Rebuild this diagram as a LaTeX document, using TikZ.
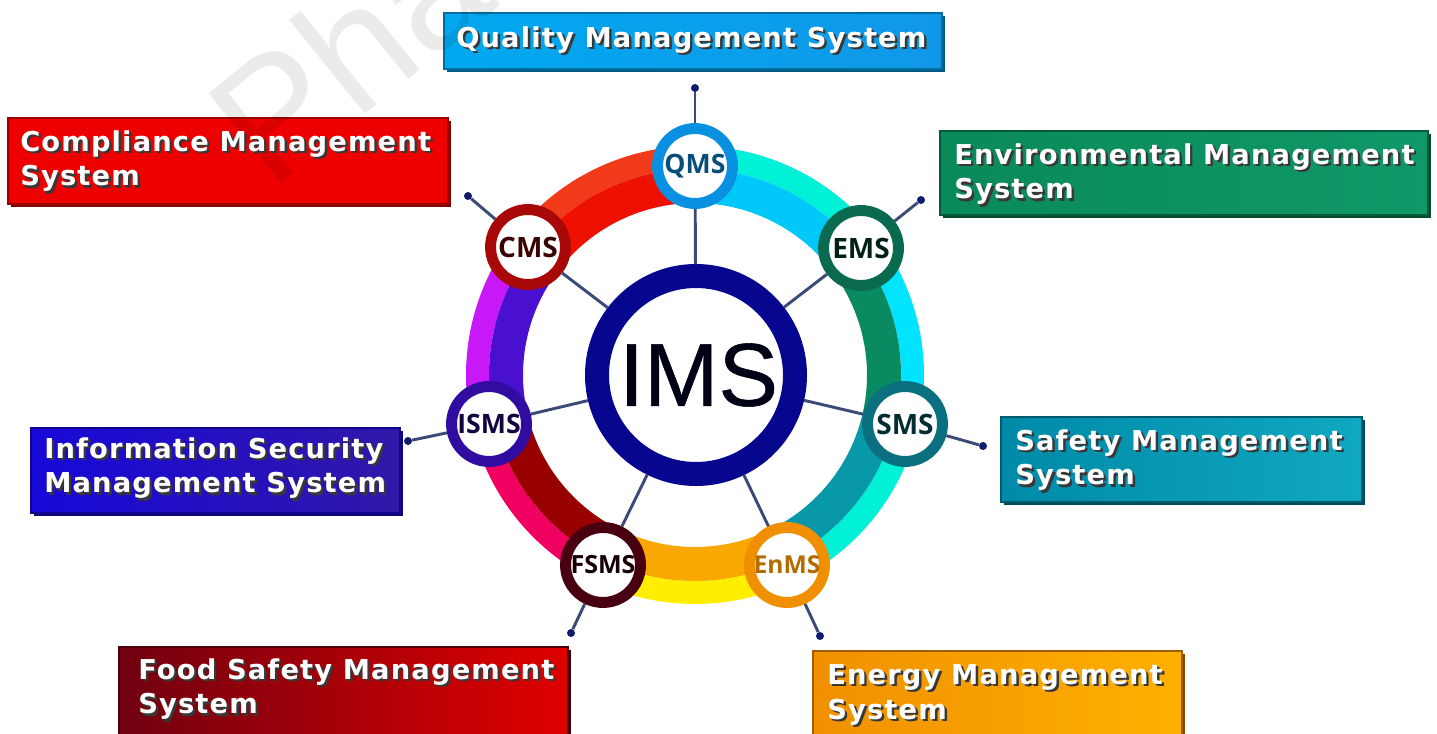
\documentclass[tikz,border=0pt]{standalone}
\usepackage{fontspec}
\setmainfont{DejaVu Sans}
\newfontfamily\boxfont[LetterSpace=4.2]{DejaVu Sans}
\newfontfamily\hubfont{Open Sans}
\newfontfamily\imsfont[FakeBold=0.6]{Liberation Sans}
\newfontfamily\wmfont{Liberation Sans}
\definecolor{spoke}{HTML}{3C4A78}
\definecolor{dotc}{HTML}{101C70}
\definecolor{imsblue}{HTML}{06068E}
\definecolor{qa}{HTML}{00F0D8}\definecolor{qb}{HTML}{00C8F8}
\definecolor{ea}{HTML}{00E4FF}\definecolor{eb}{HTML}{0A8A60}
\definecolor{sa}{HTML}{00F0D8}\definecolor{sb}{HTML}{0898A8}
\definecolor{na}{HTML}{FFEE00}\definecolor{nb}{HTML}{F8A800}
\definecolor{fa}{HTML}{F00060}\definecolor{fb}{HTML}{980000}
\definecolor{ia}{HTML}{C818F8}\definecolor{ib}{HTML}{4A10D0}
\definecolor{ca}{HTML}{F03A1A}\definecolor{cb}{HTML}{EE1000}
\definecolor{hq}{HTML}{0A90E0}\definecolor{hc}{HTML}{A80808}
\definecolor{he}{HTML}{0A6A50}\definecolor{hs}{HTML}{0A7080}
\definecolor{hn}{HTML}{F09000}\definecolor{hf}{HTML}{480010}
\definecolor{hi}{HTML}{300CA0}
\definecolor{bqa}{HTML}{00A8F0}\definecolor{bqb}{HTML}{1098E8}
\definecolor{bca}{HTML}{EE0000}\definecolor{bcb}{HTML}{EE0000}
\definecolor{bea}{HTML}{0A8A58}\definecolor{beb}{HTML}{109868}
\definecolor{bsa}{HTML}{008AA8}\definecolor{bsb}{HTML}{10A8C0}
\definecolor{bia}{HTML}{1808D8}\definecolor{bib}{HTML}{3018A8}
\definecolor{bfa}{HTML}{700010}\definecolor{bfb}{HTML}{E00000}
\definecolor{bna}{HTML}{F09000}\definecolor{bnb}{HTML}{FFB000}
\newcommand\shtext[1]{\rlap{\raisebox{-1.8pt}{\hspace{1.8pt}\textcolor{black!78}{#1}}}\textcolor{white}{#1}}
\newcommand\sector[5]{\fill[#5] (#1:#3) arc[start angle=#1,end angle=#2,radius=#3] -- (#2:#4) arc[start angle=#2,end angle=#1,radius=#4] -- cycle;}
\newcommand\band[4]{\sector{#1}{#2}{206}{229}{#3}\sector{#1}{#2}{172}{206}{#4}}
% x1, y1, x2, y2, colour left, colour right
\newcommand\labelbox[6]{%
  \fill[#5!55!black] (#1+3,#2+3) rectangle (#3+3,#4+3);
  \shade[left color=#5,right color=#6] (#1,#2) rectangle (#3,#4);
  \draw[#5!65!black,line width=.8pt] (#1,#2) rectangle (#3,#4);}
\newcommand\hubsize[1]{\hubfont\fontsize{#1pt}{22pt}\selectfont\bfseries}
\tikzset{
  x=.75pt,y=-.75pt,
  boxtext/.style={font=\boxfont\fontsize{20.5pt}{26.2pt}\selectfont\bfseries,align=left,inner sep=0pt,text=white,anchor=north west},
  hub/.style={circle,fill=white,line width=8.2pt,minimum size=56.2pt,inner sep=0pt},
  tip/.style={circle,fill=dotc,minimum size=6pt,inner sep=0pt},
  link/.style={draw=spoke,line width=2.2pt}
}
\begin{document}
\begin{tikzpicture}
\useasboundingbox (0,0) rectangle (1437,734);
\clip (0,0) rectangle (1437,734);
\fill[white] (0,0) rectangle (1437,734);

\begin{scope}[shift={(695,375)},x=.75pt,y=.75pt]
\band{90}{37.6}{qa}{qb}
\band{37.6}{-12.9}{ea}{eb}
\band{-12.9}{-64}{sa}{sb}
\band{-64}{-116}{na}{nb}
\band{-116}{-167.1}{fa}{fb}
\band{-167.1}{-218}{ia}{ib}
\band{-218}{-270}{ca}{cb}
\end{scope}

\node[circle,draw=imsblue,fill=white,line width=18pt,minimum size=148.5pt,inner sep=0pt,text=black!85!imsblue,font=\imsfont\fontsize{67pt}{67pt}\selectfont] (ims) at (696,375) {\hspace{4pt}IMS};
\node[hub,draw=hq,text=hq!55!black,font=\hubsize{20}] (qms) at (695,166) {QMS};
\node[hub,draw=hc,text=hc!35!black,font=\hubsize{21}] (cms) at (528,247) {CMS};
\node[hub,draw=he,text=he!30!black,font=\hubsize{21}] (ems) at (861,248) {EMS};
\node[hub,draw=hs,text=hs!40!black,font=\hubsize{21}] (sms) at (905,424) {SMS};
\node[hub,draw=hn,text=hn!75!black,font=\hubsize{18.5}] (enms) at (787,565) {EnMS};
\node[hub,draw=hf,text=hf!30!black,font=\hubsize{18.8}] (fsms) at (603,565) {FSMS};
\node[hub,draw=hi,text=hi!40!black,font=\hubsize{20}] (isms) at (489,424) {ISMS};

\node[tip] (tq) at (695,88) {};
\node[tip] (tc) at (468,196) {};
\node[tip] (te) at (921,200) {};
\node[tip] (ts) at (983,446) {};
\node[tip] (tn) at (820,636) {};
\node[tip] (tf) at (571,633) {};
\node[tip] (ti) at (408,441) {};

\foreach \h/\t in {qms/tq,cms/tc,ems/te,sms/ts,enms/tn,fsms/tf,isms/ti}{
  \draw[link] (ims) -- (\h);
  \draw[link] (\h) -- (\t);
}

\labelbox{444}{13}{942}{69}{bqa}{bqb}
\labelbox{8}{118}{448}{204}{bca}{bcb}
\labelbox{940}{131}{1428}{215}{bea}{beb}
\labelbox{1001}{417}{1362}{502}{bsa}{bsb}
\labelbox{31}{428}{400}{513}{bia}{bib}
\labelbox{119}{647}{568}{740}{bfa}{bfb}
\labelbox{813}{651}{1182}{740}{bna}{bnb}

\node[anchor=base west,rotate=39,inner sep=0pt,text=black,opacity=.08,font=\wmfont\fontsize{125pt}{125pt}\selectfont] (wm) at (270,192) {Pha};

\node[boxtext] (lq) at (456,26) {\shtext{Quality Management System}};
\node[boxtext] (lc) at (20,130) {\shtext{Compliance Management}\\\shtext{System}};
\node[boxtext] (le) at (954,143) {\shtext{Environmental Management}\\\shtext{System}};
\node[boxtext] (ls) at (1015,429) {\shtext{Safety Management}\\\shtext{System}};
\node[boxtext] (li) at (44,437) {\shtext{Information Security}\\\shtext{Management System}};
\node[boxtext] (lf) at (138,658) {\shtext{Food Safety Management}\\\shtext{System}};
\node[boxtext] (ln) at (827,664) {\shtext{Energy Management}\\\shtext{System}};
\end{tikzpicture}
\end{document}
